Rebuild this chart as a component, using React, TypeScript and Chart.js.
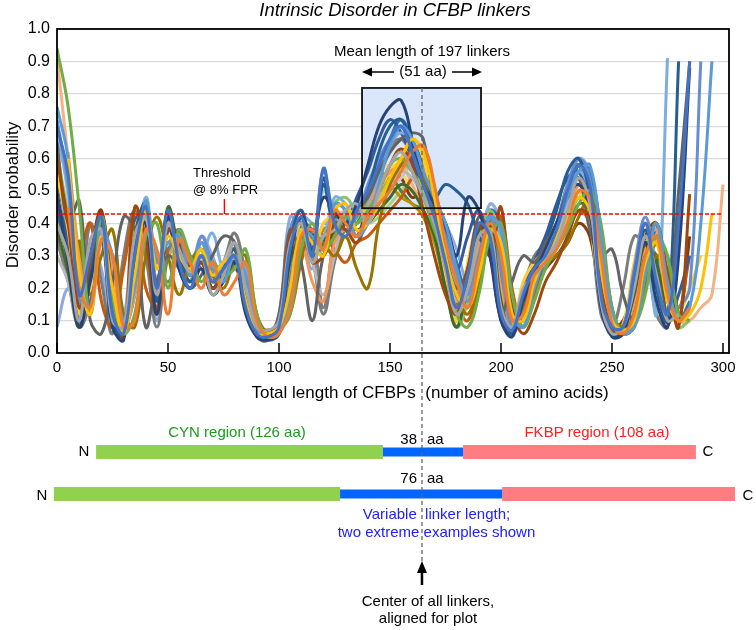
import { useEffect, useRef } from "react";
import { Chart, registerables } from "chart.js";

Chart.register(...registerables);

// ---------- DATA ----------
// amino-acid positions (aligned on linker centre)
const POSITIONS = [
  0, 5, 10, 15, 20, 25, 30, 35, 40, 45,
  50, 55, 60, 65, 70, 75, 80, 85, 90, 95,
  100, 105, 110, 115, 120, 125, 130, 135, 140, 145,
  150, 155, 160, 165, 170, 175, 180, 185, 190, 195,
  200, 205, 210, 215, 220, 225, 230, 235, 240, 245,
  250, 255, 260, 265, 270, 275, 280, 285, 290, 295, 300,
];

const n = null;
// disorder probability, in percent
const S01 = [70,55,18,30,42,12,6,30,45,20, 44,28,20,30,22,26,30,14,6,5, 8,32,42,30,57,40,36,44,50,58, 66,70,62,52,42,28,14,24,40,36, 12,7,18,26,30,38,50,58,52,18, 8,8,24,40,22,12,40,90,n,n,n];
const S02 = [n,45,20,14,35,30,8,10,38,32, 12,35,28,20,28,18,22,28,10,5, 6,14,36,38,32,44,40,36,42,46, 50,56,62,64,52,34,22,14,28,40, 30,10,12,24,28,32,40,50,48,30, 9,6,12,30,36,18,10,14,n,n,n];
const S03 = [40,30,10,35,38,10,8,36,42,18, 40,32,25,30,18,24,34,20,8,7, 10,34,40,28,36,38,44,46,40,50, 58,62,56,48,40,26,12,20,36,38, 14,8,20,24,28,34,44,54,46,16, 6,8,20,36,24,10,12,n,n,n,n];
const S04 = [n,60,25,12,36,20,6,24,44,26, 36,30,26,32,24,28,30,16,6,6, 8,20,38,34,30,44,46,38,40,46, 54,60,66,62,48,30,18,14,24,38, 34,12,10,22,30,36,42,48,44,26, 10,7,10,28,34,16,10,12,20,43,n];
const S05 = [76,60,22,14,38,30,10,20,47,28, 34,36,24,34,26,22,30,24,8,5, 6,18,38,36,32,46,44,36,40,52, 64,70,66,56,48,40,26,16,28,42, 38,12,8,20,30,38,48,56,58,36, 12,6,8,24,40,22,10,14,40,90,n];
const S06 = [94,76,45,12,42,18,6,12,36,40, 20,38,30,22,28,24,26,32,12,5, 7,12,32,40,32,36,42,40,44,50, 58,60,56,48,38,28,12,8,18,36, 40,18,8,16,26,32,38,46,50,40, 14,6,8,18,36,30,12,10,n,n,n];
const S07 = [50,28,8,22,36,8,4,34,40,12, 42,26,20,26,18,22,28,12,5,4, 6,30,42,36,48,44,40,46,58,70, 76,78,66,52,46,40,30,48,44,30, 10,5,16,24,32,40,48,52,44,14, 5,6,22,34,16,8,30,88,n,n,n];
const S08 = [60,40,14,28,43,20,5,45,35,12, 38,34,26,28,20,24,28,16,8,7, 8,36,40,28,30,40,38,34,42,50, 58,63,58,44,30,18,12,26,40,30, 45,14,6,12,22,28,36,44,42,20, 8,6,12,28,40,24,8,49,n,n,n];
const S09 = [65,40,47,10,6,22,42,38,8,22, 30,26,20,24,30,36,34,14,5,4, 12,38,28,10,30,36,40,44,48,56, 62,66,68,66,44,30,20,26,42,36, 12,22,30,28,34,40,50,54,38,30, 32,18,10,30,24,12,50,90,n,n,n];
const S10 = [n,n,35,18,30,38,12,8,30,42, 30,18,28,32,24,20,28,30,12,6, 7,14,30,36,34,30,36,26,20,40, 52,58,62,54,42,30,18,12,22,36, 30,10,14,26,28,30,34,42,48,36, 12,8,10,20,30,26,12,n,n,n,n];
const S11 = [45,30,10,24,38,10,5,36,46,16, 38,30,22,28,20,26,32,16,6,5, 8,34,44,32,52,40,42,44,50,62, 70,72,64,54,48,52,50,46,36,30, 12,6,18,26,34,44,56,60,48,16, 6,6,20,38,20,10,90,n,n,n,n];
const S12 = [38,25,8,30,40,12,6,28,44,20, 45,32,24,30,20,26,30,18,8,6, 7,28,36,30,34,42,40,38,40,44, 48,52,50,44,36,20,8,22,38,40, 16,6,18,22,28,30,36,46,44,18, 7,8,18,34,28,12,40,n,n,n,n];
const S13 = [72,52,16,24,40,14,5,32,46,22, 44,30,22,36,28,24,30,14,6,5, 10,38,44,34,56,42,38,42,52,60, 66,70,62,52,44,36,24,18,30,42, 26,8,16,24,32,40,52,60,54,20, 8,8,26,42,26,12,14,20,90,n,n];
const S14 = [n,62,30,12,34,26,8,18,40,28, 30,34,26,26,20,24,26,20,8,6, 6,16,34,22,16,34,38,34,44,52, 56,58,62,56,42,26,12,20,34,38, 20,8,14,24,30,34,42,52,46,18, 6,7,16,32,38,20,8,n,n,n,n];
const S15 = [30,22,8,26,36,12,6,34,40,16, 40,28,22,28,22,28,34,18,8,6, 8,30,38,28,18,30,42,44,42,48, 52,56,54,48,40,28,16,24,38,36, 14,8,18,26,30,36,46,52,44,14, 6,8,22,38,22,10,12,n,n,n,n];
const S16 = [55,38,12,20,40,16,7,38,44,22, 40,30,24,32,22,28,32,16,6,5, 8,28,40,30,40,42,40,44,44,50, 56,60,66,60,42,24,10,28,40,30, 12,8,22,28,32,38,48,50,40,16, 7,9,28,40,22,10,12,20,30,n,n];
const S17 = [68,50,14,20,38,28,12,24,48,30, 30,36,28,30,37,26,28,26,10,5, 6,20,42,40,36,48,46,40,46,54, 64,68,64,56,46,34,20,14,26,40, 36,12,10,22,28,36,46,56,50,30, 10,6,10,30,12,91,n,n,n,n,n];
const S18 = [62,42,16,30,42,14,5,28,42,20, 44,30,26,34,26,28,34,20,8,5, 6,20,34,36,30,46,48,44,44,48, 54,58,56,50,36,22,8,16,32,44, 34,10,12,24,32,36,40,48,46,24, 8,7,14,30,40,20,8,10,n,n,n];
const S19 = [48,34,10,28,38,10,6,40,44,16, 42,26,20,28,20,24,30,14,6,5, 8,36,44,30,54,38,40,48,56,66, 72,68,60,50,46,38,26,36,44,32, 10,6,18,28,36,46,54,56,44,14, 6,7,24,40,22,10,18,30,n,n,n];
const S20 = [n,n,28,40,16,8,26,42,20,14, 38,36,30,26,22,28,32,22,10,6, 7,12,28,38,36,32,28,34,36,40, 44,48,54,56,50,36,16,10,22,38, 42,20,8,18,26,34,38,44,40,22, 10,6,8,24,34,30,14,30,n,n,n];
const S21 = [60,36,14,40,22,6,30,44,30,8, 30,38,24,28,22,28,37,24,8,4, 6,24,42,30,12,28,38,36,44,56, 64,66,62,56,46,36,24,18,32,40, 24,8,20,30,34,40,52,58,44,12, 8,20,36,32,12,8,42,n,n,n,n];
const S22 = [58,40,12,24,40,14,6,34,42,18, 42,30,24,30,22,26,30,16,6,5, 8,30,40,30,38,40,40,42,48,56, 52,48,46,42,34,20,10,24,38,34, 14,8,20,26,30,36,44,50,42,16, 7,8,20,36,24,10,14,n,n,n,n];
const S23 = [n,42,18,16,36,30,8,18,44,30, 32,38,26,32,24,24,30,26,8,5, 6,18,40,38,32,46,44,36,44,56, 66,72,66,58,48,40,28,18,30,44, 40,14,8,18,28,36,48,58,56,38, 14,6,8,22,38,24,10,16,n,n,n];
const S24 = [42,28,10,26,38,12,5,30,42,18, 44,30,24,30,22,26,32,18,7,6, 8,26,36,30,34,40,38,40,46,50, 54,50,46,44,36,22,8,20,34,42, 18,6,16,24,30,34,40,48,44,18, 8,8,18,32,30,12,36,n,n,n,n];
const S25 = [8,20,12,34,26,8,10,42,36,10, 32,30,26,36,30,22,28,24,8,6, 12,42,36,26,40,38,42,46,50,58, 66,68,62,54,46,40,32,22,32,46, 40,12,10,22,30,38,50,60,56,30, 10,6,8,22,36,28,10,12,n,n,n];
const S26 = [91,60,25,18,36,26,8,20,40,30, 34,34,26,30,22,24,28,22,8,6, 6,18,36,36,32,42,40,36,40,48, 56,58,52,44,36,28,16,14,26,40, 36,12,10,20,28,34,42,50,46,28, 10,6,8,26,38,22,10,10,14,18,52];
const S27 = [50,32,10,22,38,14,6,32,44,20, 40,32,24,30,22,26,32,18,7,5, 8,30,40,30,40,42,44,44,42,46, 50,54,58,56,46,30,14,22,38,40, 16,8,20,26,30,36,46,52,44,16, 6,8,20,36,24,10,12,n,n,n,n];
const S28 = [n,50,20,16,38,24,7,24,42,26, 38,32,26,32,24,26,30,20,8,6, 7,24,38,34,34,44,42,40,50,56, 58,56,50,46,40,28,14,18,32,42, 30,10,12,24,30,34,42,50,46,22, 8,7,12,28,38,20,10,12,n,n,n];
const S29 = [70,48,14,22,40,18,6,30,46,22, 40,32,24,34,28,24,30,18,7,5, 8,32,42,34,50,42,40,44,50,58, 64,68,62,54,44,34,22,20,34,42, 28,8,14,24,32,40,50,58,52,22, 8,8,24,40,24,10,12,n,n,n,n];
const S30 = [58,40,14,26,40,14,5,30,42,20, 42,30,24,30,24,26,32,18,7,5, 7,26,38,32,36,42,42,42,40,42, 46,50,54,52,42,26,10,20,36,40, 20,8,16,24,30,34,42,48,44,18, 7,8,20,34,28,12,10,n,n,n,n];
const S31 = [52,30,10,30,44,18,6,30,46,22, 40,34,28,30,22,24,30,20,8,7, 8,24,38,34,30,38,40,36,46,52, 56,54,48,50,40,22,10,18,36,42, 24,8,12,22,26,30,34,40,36,16, 8,10,20,36,40,16,10,36,n,n,n];
const S32 = [35,22,8,16,36,26,10,28,42,30, 22,30,24,30,24,26,34,22,8,5, 6,20,36,36,14,36,44,42,46,54, 62,66,60,52,42,30,18,24,36,44, 30,10,14,24,32,36,44,52,50,26, 10,7,14,30,38,18,44,n,n,n,n];

const SERIES_VALUES = [
  S01, S02, S03, S04, S05, S06, S07, S08, S09, S10, S11, S12, S13, S14, S15, S16,
  S17, S18, S19, S20, S21, S22, S23, S24, S25, S26, S27, S28, S29, S30, S31, S32,
];
const SERIES_COLORS = [
  "#4472C4", "#ED7D31", "#A5A5A5", "#FFC000", "#5B9BD5", "#70AD47", "#264478", "#9E480E",
  "#636363", "#997300", "#255E91", "#43682B", "#698ED0", "#F1975A", "#B7B7B7", "#FFCD33",
  "#7CAFDD", "#8CC168", "#335AA1", "#C55A11", "#7C7C7C", "#BF9000", "#2E75B6", "#548235",
  "#8FAADC", "#F4B183", "#C9C9C9", "#FFD966", "#9DC3E6", "#A9D18E", "#843C0C", "#7F7F7F",
];

const X_TICKS = [0, 50, 100, 150, 200, 250, 300];
const THRESHOLD = 0.429;
const THRESHOLD_END = 300;
const THRESHOLD_MARK = 75.4;
const BOX = { x0: 137.4, x1: 191, y0: 0.447, y1: 0.818 };
const LINKER_CENTER = 164.4;
// schematic domain extents (aa units on the x scale)
const ROW1 = { green: [17.6, 146.8], blue: [146.8, 182.9], red: [182.9, 287.8] };
const ROW2 = { green: [-1.35, 127.5], blue: [127.5, 200.5], red: [200.5, 305.4] };

const FF = "'Liberation Sans', Arial, Helvetica, sans-serif";

function txt(ctx: any, s: string, x: number, y: number, size: number, color: string, align: string = "center", style = "") {
  ctx.font = `${style} ${size}px ${FF}`.trim();
  ctx.fillStyle = color;
  ctx.textAlign = align;
  ctx.textBaseline = "middle";
  ctx.fillText(s, x, y);
}

function hArrow(ctx: any, xFrom: number, xTo: number, y: number) {
  const dir = Math.sign(xTo - xFrom);
  ctx.save();
  ctx.strokeStyle = "#000";
  ctx.lineWidth = 1.5;
  ctx.beginPath();
  ctx.moveTo(xFrom, y);
  ctx.lineTo(xTo - dir * 6, y);
  ctx.stroke();
  ctx.fillStyle = "#000";
  ctx.beginPath();
  ctx.moveTo(xTo, y);
  ctx.lineTo(xTo - dir * 10, y - 4.5);
  ctx.lineTo(xTo - dir * 10, y + 4.5);
  ctx.closePath();
  ctx.fill();
  ctx.restore();
}

const annotations = {
  id: "annotations",
  beforeDatasetsDraw(chart: any) {
    const { ctx, scales } = chart;
    const x = scales.x, y = scales.y;
    ctx.save();
    ctx.fillStyle = "#dae7fb";
    const bx0 = x.getPixelForValue(BOX.x0), bx1 = x.getPixelForValue(BOX.x1);
    const by0 = y.getPixelForValue(BOX.y1), by1 = y.getPixelForValue(BOX.y0);
    ctx.fillRect(bx0, by0, bx1 - bx0, by1 - by0);
    ctx.restore();
  },
  afterDatasetsDraw(chart: any) {
    const { ctx, scales, chartArea } = chart;
    const x = scales.x, y = scales.y;
    ctx.save();
    // threshold
    const ty = y.getPixelForValue(THRESHOLD);
    ctx.strokeStyle = "#ff0000";
    ctx.lineWidth = 1.4;
    ctx.setLineDash([4, 2]);
    ctx.beginPath();
    ctx.moveTo(chartArea.left, ty);
    ctx.lineTo(x.getPixelForValue(THRESHOLD_END), ty);
    ctx.stroke();
    ctx.setLineDash([]);
    const mx = x.getPixelForValue(THRESHOLD_MARK);
    ctx.beginPath();
    ctx.moveTo(mx, ty - 15);
    ctx.lineTo(mx, ty);
    ctx.stroke();

    // box border
    const bx0 = x.getPixelForValue(BOX.x0), bx1 = x.getPixelForValue(BOX.x1);
    const by0 = y.getPixelForValue(BOX.y1), by1 = y.getPixelForValue(BOX.y0);
    ctx.strokeStyle = "#111";
    ctx.lineWidth = 1.8;
    ctx.strokeRect(bx0, by0, bx1 - bx0, by1 - by0);
    ctx.restore();
  },
  afterDraw(chart: any) {
    const { ctx, scales, chartArea } = chart;
    const x = scales.x, y = scales.y;
    ctx.save();
    const cx = x.getPixelForValue(LINKER_CENTER);

    // frame
    ctx.strokeStyle = "#000";
    ctx.lineWidth = 1.8;
    ctx.strokeRect(chartArea.left, chartArea.top, chartArea.right - chartArea.left, chartArea.bottom - chartArea.top);
    // x tick marks (inside)
    ctx.lineWidth = 1.5;
    for (const t of X_TICKS) {
      const px = x.getPixelForValue(t);
      ctx.beginPath();
      ctx.moveTo(px, chartArea.bottom - 10);
      ctx.lineTo(px, chartArea.bottom);
      ctx.stroke();
    }

    // diagram bars
    const bar = (range: number[], yc: number, h: number, color: string) => {
      const a = x.getPixelForValue(range[0]), b = x.getPixelForValue(range[1]);
      ctx.fillStyle = color;
      ctx.fillRect(a, yc - h / 2, b - a, h);
    };
    const r1 = 452, r2 = 494;
    bar(ROW1.green, r1, 14, "#92d050");
    bar(ROW1.red, r1, 14, "#ff7c80");
    bar(ROW1.blue, r1, 9, "#0066ff");
    bar(ROW2.green, r2, 14, "#92d050");
    bar(ROW2.red, r2, 14, "#ff7c80");
    bar(ROW2.blue, r2, 9, "#0066ff");

    // dashed centre line
    const by0 = y.getPixelForValue(BOX.y1);
    ctx.strokeStyle = "#666";
    ctx.lineWidth = 1.3;
    ctx.setLineDash([4, 3]);
    ctx.beginPath();
    ctx.moveTo(cx, by0);
    ctx.lineTo(cx, 561);
    ctx.stroke();
    ctx.setLineDash([]);

    // arrow up
    ctx.strokeStyle = "#000";
    ctx.lineWidth = 2.5;
    ctx.beginPath();
    ctx.moveTo(cx, 570);
    ctx.lineTo(cx, 585);
    ctx.stroke();
    ctx.fillStyle = "#000";
    ctx.beginPath();
    ctx.moveTo(cx, 561);
    ctx.lineTo(cx - 5, 573);
    ctx.lineTo(cx + 5, 573);
    ctx.closePath();
    ctx.fill();

    // texts
    txt(ctx, "Intrinsic Disorder in CFBP linkers", 395, 11, 18.5, "#000", "center", "italic");
    txt(ctx, "Total length of CFBPs  (number of amino acids)", 430, 393, 17, "#000");
    ctx.save();
    ctx.translate(13, 195);
    ctx.rotate(-Math.PI / 2);
    txt(ctx, "Disorder probability", 0, 0, 17, "#000");
    ctx.restore();

    txt(ctx, "Mean length of 197 linkers", 422, 52, 15, "#000");
    txt(ctx, "(51 aa)", 423, 72, 15, "#000");
    hArrow(ctx, 394, 362, 72);
    hArrow(ctx, 452, 482, 72);

    txt(ctx, "Threshold", 193, 173, 13, "#000", "left");
    txt(ctx, "@ 8% FPR", 193, 190, 13, "#000", "left");

    txt(ctx, "CYN region (126 aa)", 237, 433, 15, "#1e9a1e");
    txt(ctx, "FKBP region (108 aa)", 597, 433, 15, "#ff2020");
    txt(ctx, "38", 417, 440, 15, "#000", "right");
    txt(ctx, "aa", 427, 440, 15, "#000", "left");
    txt(ctx, "76", 417, 479, 15, "#000", "right");
    txt(ctx, "aa", 427, 479, 15, "#000", "left");
    txt(ctx, "N", 84, 452, 15, "#000");
    txt(ctx, "C", 708, 452, 15, "#000");
    txt(ctx, "N", 42, 496, 15, "#000");
    txt(ctx, "C", 748, 496, 15, "#000");
    txt(ctx, "Variable  linker length;", 436.5, 515, 15, "#2020ff");
    txt(ctx, "two extreme examples shown", 436.5, 533, 15, "#2020ff");
    txt(ctx, "Center of all linkers,", 428, 602, 15, "#000");
    txt(ctx, "aligned for plot", 428, 619, 15, "#000");
    ctx.restore();
  },
};

export default function App() {
  const ref = useRef<HTMLCanvasElement | null>(null);
  useEffect(() => {
    if (!ref.current) return;
    const datasets = SERIES_VALUES.map((vals, i) => ({
      label: "S" + (i + 1),
      data: vals
        .map((v, j) => (v == null ? null : { x: POSITIONS[j], y: (v as number) / 100 }))
        .filter((p) => p !== null),
      borderColor: SERIES_COLORS[i],
      backgroundColor: SERIES_COLORS[i],
      borderWidth: 3,
      pointRadius: 0,
      tension: 0.4,
      fill: false,
    }));
    const chart = new Chart(ref.current, {
      type: "line",
      data: { datasets },
      options: {
        animation: false,
        responsive: false,
        devicePixelRatio: 1,
        layout: { padding: { top: 29, right: 27, bottom: 237, left: 0 } },
        plugins: { legend: { display: false }, tooltip: { enabled: false }, title: { display: false } },
        scales: {
          x: {
            type: "linear",
            min: 0,
            max: 302.7,
            border: { display: false },
            grid: { display: false, drawTicks: false },
            ticks: {
              stepSize: 50,
              includeBounds: false,
              autoSkip: false,
              maxRotation: 0,
              padding: 6,
              color: "#000",
              font: { family: FF, size: 15 },
              callback: (v: any) => String(v),
            },
            afterFit: (s: any) => { s.height = 40; },
          },
          y: {
            min: 0,
            max: 1,
            border: { display: false },
            grid: { color: "#d9d9d9", lineWidth: 1.3, drawTicks: false },
            ticks: {
              stepSize: 0.1,
              padding: 7,
              color: "#000",
              font: { family: FF, size: 16 },
              callback: (v: any) => Number(v).toFixed(1),
            },
            afterFit: (s: any) => { s.width = 57; },
          },
        },
      },
      plugins: [annotations],
    } as any);
    return () => chart.destroy();
  }, []);
  return (
    <div style={{ position: "fixed", left: 0, top: 0, width: 756, height: 630, background: "#fff" }}>
      <canvas ref={ref} width={756} height={630} style={{ display: "block", width: 756, height: 630 }} />
    </div>
  );
}
